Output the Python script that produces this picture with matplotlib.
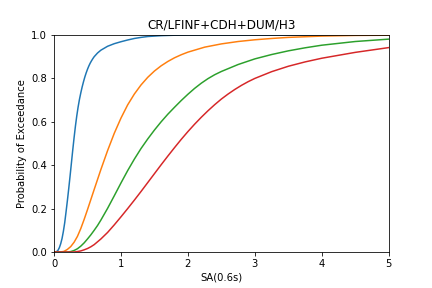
import matplotlib
matplotlib.use("Agg")
import matplotlib.pyplot as plt

title = "CR/LFINF+CDH+DUM/H3"
xlabel = "SA(0.6s)"
ylabel = "Probability of Exceedance"

blue_x = [0, 0.02, 0.04, 0.06, 0.08, 0.10, 0.12, 0.14, 0.16, 0.18, 0.20, 0.22, 0.24,
          0.26, 0.28, 0.30, 0.32, 0.34, 0.36, 0.38, 0.40, 0.42, 0.44, 0.46, 0.48, 0.50,
          0.52, 0.54, 0.56, 0.58, 0.60, 0.65, 0.70, 0.80, 0.90, 1.0, 1.1, 1.2, 1.3, 1.4,
          1.6, 1.8, 2.0, 5.0]
blue_p = [0, 0, 0.002, 0.008, 0.02, 0.038, 0.062, 0.095, 0.135, 0.185, 0.237, 0.292, 0.35,
          0.41, 0.47, 0.527, 0.58, 0.627, 0.668, 0.703, 0.733, 0.76, 0.784, 0.806, 0.825,
          0.842, 0.857, 0.87, 0.881, 0.891, 0.90, 0.917, 0.93, 0.948, 0.96, 0.969, 0.977,
          0.984, 0.989, 0.993, 0.997, 0.999, 1.0, 1.0]

orange_x = [0, 0.1, 0.15, 0.2, 0.25, 0.3, 0.35, 0.4, 0.45, 0.5, 0.6, 0.7, 0.8, 0.9, 1.0,
            1.1, 1.2, 1.3, 1.4, 1.5, 1.6, 1.7, 1.8, 1.9, 2.0, 2.25, 2.5, 2.75, 3.0, 3.25,
            3.5, 4.0, 4.5, 5.0]
orange_p = [0, 0, 0.003, 0.012, 0.025, 0.045, 0.072, 0.108, 0.15, 0.195, 0.288, 0.38,
            0.467, 0.547, 0.617, 0.678, 0.728, 0.77, 0.805, 0.834, 0.858, 0.878, 0.895,
            0.909, 0.921, 0.944, 0.959, 0.97, 0.978, 0.984, 0.989, 0.995, 0.998, 0.999]

green_x = [0, 0.2, 0.25, 0.3, 0.35, 0.4, 0.45, 0.5, 0.55, 0.6, 0.65, 0.7, 0.8, 0.9, 1.0,
           1.1, 1.2, 1.3, 1.4, 1.5, 1.6, 1.7, 1.8, 1.9, 2.0, 2.1, 2.2, 2.3, 2.4, 2.5, 2.75,
           3.0, 3.25, 3.5, 3.75, 4.0, 4.5, 5.0]
green_p = [0, 0, 0.002, 0.007, 0.015, 0.027, 0.042, 0.06, 0.079, 0.1, 0.122, 0.147, 0.201,
           0.259, 0.318, 0.375, 0.428, 0.477, 0.521, 0.562, 0.6, 0.635, 0.667, 0.698, 0.727,
           0.754, 0.778, 0.799, 0.817, 0.832, 0.864, 0.89, 0.91, 0.927, 0.941, 0.953, 0.97,
           0.981]

red_x = [0, 0.3, 0.35, 0.4, 0.45, 0.5, 0.55, 0.6, 0.7, 0.8, 0.9, 1.0, 1.1, 1.2, 1.3, 1.4,
         1.5, 1.6, 1.7, 1.8, 1.9, 2.0, 2.1, 2.2, 2.3, 2.4, 2.5, 2.6, 2.7, 2.8, 2.9, 3.0,
         3.25, 3.5, 3.75, 4.0, 4.5, 5.0]
red_p = [0, 0, 0.002, 0.005, 0.01, 0.016, 0.024, 0.034, 0.06, 0.09, 0.125, 0.162, 0.2,
         0.239, 0.279, 0.32, 0.361, 0.402, 0.442, 0.481, 0.519, 0.555, 0.589, 0.621, 0.651,
         0.679, 0.705, 0.728, 0.749, 0.768, 0.785, 0.8, 0.831, 0.856, 0.876, 0.893, 0.92,
         0.942]

fig = plt.figure(figsize=(6, 4), dpi=72)
ax = fig.add_subplot(111)
fig.subplots_adjust(left=0.125, right=0.9, top=1 - 35 / 288, bottom=1 - 252 / 288)

ax.plot(blue_x, blue_p, color="#1f77b4")
ax.plot(orange_x, orange_p, color="#ff7f0e")
ax.plot(green_x, green_p, color="#2ca02c")
ax.plot(red_x, red_p, color="#d62728")

ax.set_xlim(0, 5)
ax.set_ylim(0, 1)
ax.set_title(title)
ax.set_xlabel(xlabel)
ax.set_ylabel(ylabel)

fig.savefig("out.png", dpi=72)
